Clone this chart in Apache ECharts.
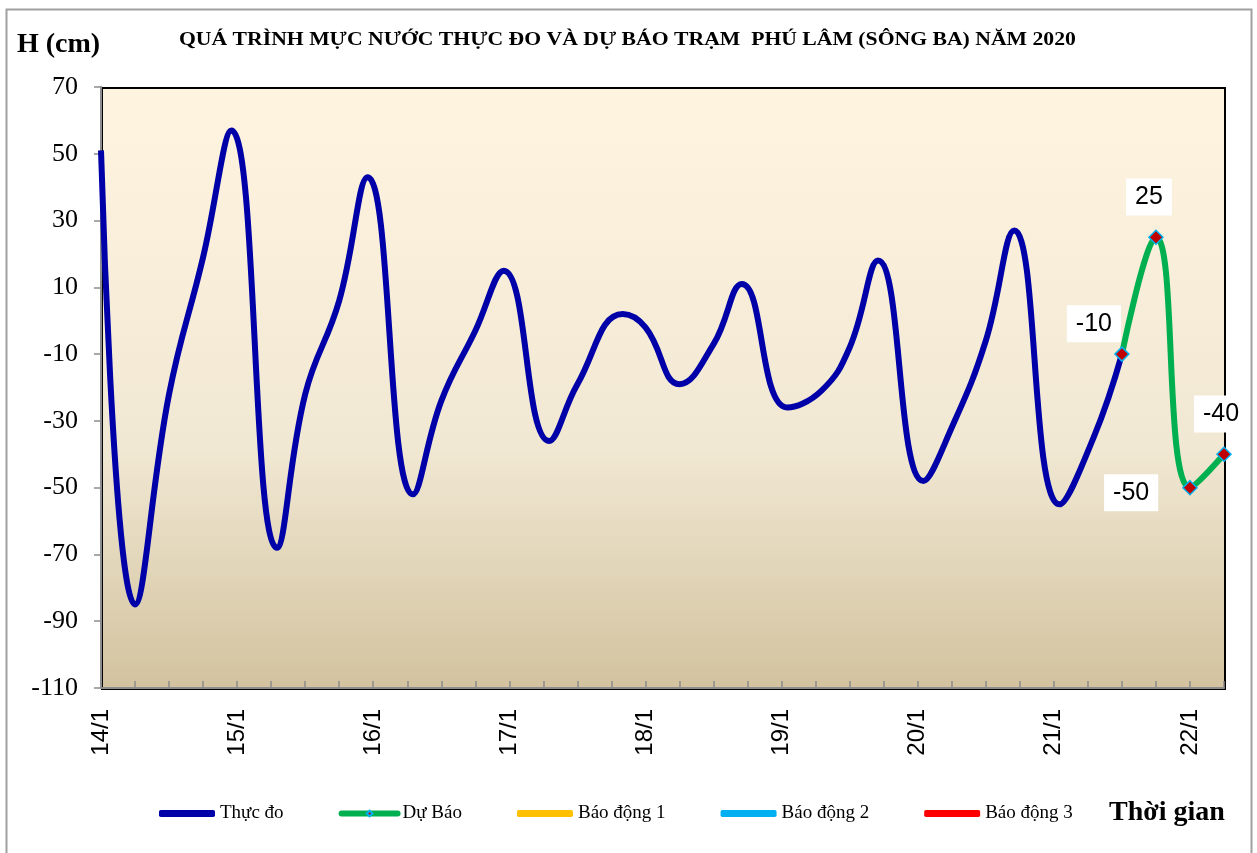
<!DOCTYPE html>
<html>
<head>
<meta charset="utf-8">
<script src="https://cdn.jsdelivr.net/npm/echarts@6/dist/echarts.min.js"></script>
<style>
  html, body { margin: 0; padding: 0; background: #fff; }
  #chart { width: 1257px; height: 853px; }
</style>
</head>
<body>
<div id="chart"></div>
<script>
// Observed water level: [hour since 14/1 00h, H (cm)]
var thucDo = [
    [0, 51], [6, -85], [12, -22], [18, 19], [23, 57],
    [31, -68], [36, -22], [42, 6], [47, 43],
    [55, -52], [60, -24], [66, -3], [71, 15],
    [79, -36], [84, -19], [92, 2], [96, -2],
    [102, -19], [108, -7], [113, 11],
    [121, -26], [127, -21], [132, -8], [137, 18],
    [145, -48], [150, -32], [156, -6], [161, 27],
    [169, -55], [175, -35], [180, -10]
];

// Forecast
var duBao = [[180, -10], [186, 25], [192, -50], [198, -40]];

// Alarm levels are off this scale: legend only
var baoDong1 = [];
var baoDong2 = [];
var baoDong3 = [];

var yTicks = { min: -110, max: 70, step: 20 };
var xHours = { min: 0, max: 198, step: 6 };
var startDay = 14;

// label placement for the forecast points
var forecastLabels = [
    { position: 'top', distance: 4, offset: [-28, 0] },
    { position: 'top', distance: 4, offset: [-7, -10] },
    { position: 'left', distance: 24, offset: [0, 5] },
    { position: 'top', distance: 4, offset: [-3, -10] }
];

var chart = echarts.init(document.getElementById('chart'), null, { renderer: 'canvas' });

var forecastData = duBao.map(function (p, i) {
    return { value: p, label: forecastLabels[i] };
});

var serif = '"Liberation Serif", "Times New Roman", serif';
var sans = '"Liberation Sans", Arial, sans-serif';

var option = {
    animation: false,
    backgroundColor: '#ffffff',
    grid: { left: 101, right: 33, top: 87, bottom: 165, containLabel: false },
    graphic: [
        {
            type: 'rect', left: 4, top: 7,
            shape: { width: 1245, height: 860 },
            style: { fill: 'none', stroke: '#a0a0a0', lineWidth: 2 },
            z: -1
        },
        {
            type: 'rect', left: 101, top: 87,
            shape: { width: 1123, height: 601 },
            style: {
                fill: new echarts.graphic.LinearGradient(0, 0, 0, 1, [
                    { offset: 0, color: '#fff4df' },
                    { offset: 0.6, color: '#f1e8d3' },
                    { offset: 1, color: '#d2c29e' }
                ]),
                stroke: '#000', lineWidth: 2
            },
            z: 0
        },
        {
            type: 'text', x: 179, y: 31, scaleX: 1.205,
            style: {
                text: 'QUÁ TRÌNH MỰC NƯỚC THỰC ĐO VÀ DỰ BÁO TRẠM  PHÚ LÂM (SÔNG BA) NĂM 2020',
                font: 'bold 18px ' + serif, fill: '#000'
            }
        },
        {
            type: 'text', left: 17, top: 31,
            style: { text: 'H (cm)', font: 'bold 28px ' + serif, fill: '#000' }
        },
        {
            type: 'text', left: 1109, top: 799,
            style: { text: 'Thời gian', font: 'bold 28px ' + serif, fill: '#000' }
        }
    ],
    legend: {
        left: 154, top: 799,
        itemWidth: 56, itemHeight: 7, itemGap: 55,
        lineStyle: { width: 6, cap: 'round' },
        textStyle: { fontFamily: serif, fontSize: 19, color: '#000' },
        data: [
            { name: 'Thực đo', icon: 'roundRect' },
            { name: 'Dự Báo' },
            { name: 'Báo động 1', icon: 'roundRect' },
            { name: 'Báo động 2', icon: 'roundRect' },
            { name: 'Báo động 3', icon: 'roundRect' }
        ]
    },
    xAxis: {
        type: 'value',
        min: xHours.min, max: xHours.max, interval: xHours.step,
        splitLine: { show: false },
        axisLine: { onZero: false, lineStyle: { color: '#8c8c8c', width: 2 } },
        axisTick: { show: true, inside: true, length: 7, lineStyle: { color: '#8c8c8c', width: 1.5 } },
        axisLabel: {
            rotate: 90, margin: 21,
            fontFamily: sans, fontSize: 24, color: '#000',
            formatter: function (v) {
                return v % 24 === 0 ? (startDay + v / 24) + '/1' : '';
            }
        }
    },
    yAxis: {
        type: 'value',
        min: yTicks.min, max: yTicks.max, interval: yTicks.step,
        splitLine: { show: false },
        axisLine: { show: true, lineStyle: { color: '#8c8c8c', width: 2 } },
        axisTick: { show: true, length: 7, lineStyle: { color: '#8c8c8c', width: 1.5 } },
        axisLabel: { margin: 23, fontFamily: serif, fontSize: 26, color: '#000' }
    },
    series: [
        {
            name: 'Thực đo', type: 'line', data: thucDo,
            smooth: 0.45, symbol: 'none', z: 3,
            lineStyle: { color: '#0000a8', width: 6 },
            itemStyle: { color: '#0000a8' }
        },
        {
            name: 'Dự Báo', type: 'line', data: forecastData,
            smooth: 0.45, symbol: 'diamond', symbolSize: 14, z: 4,
            lineStyle: { color: '#00b050', width: 6 },
            itemStyle: { color: '#c00000', borderColor: '#00b0f0', borderWidth: 1.5 },
            label: {
                show: true, color: '#000', fontFamily: sans, fontSize: 25,
                backgroundColor: '#fff', padding: [6, 9]
            }
        },
        {
            name: 'Báo động 1', type: 'line', data: baoDong1, symbol: 'none',
            lineStyle: { color: '#ffc000', width: 6 }, itemStyle: { color: '#ffc000' }
        },
        {
            name: 'Báo động 2', type: 'line', data: baoDong2, symbol: 'none',
            lineStyle: { color: '#00b0f0', width: 6 }, itemStyle: { color: '#00b0f0' }
        },
        {
            name: 'Báo động 3', type: 'line', data: baoDong3, symbol: 'none',
            lineStyle: { color: '#ff0000', width: 6 }, itemStyle: { color: '#ff0000' }
        }
    ]
};

chart.setOption(option);

window.addEventListener('resize', function () {
    if (chart) chart.resize();
});
</script>
</body>
</html>
